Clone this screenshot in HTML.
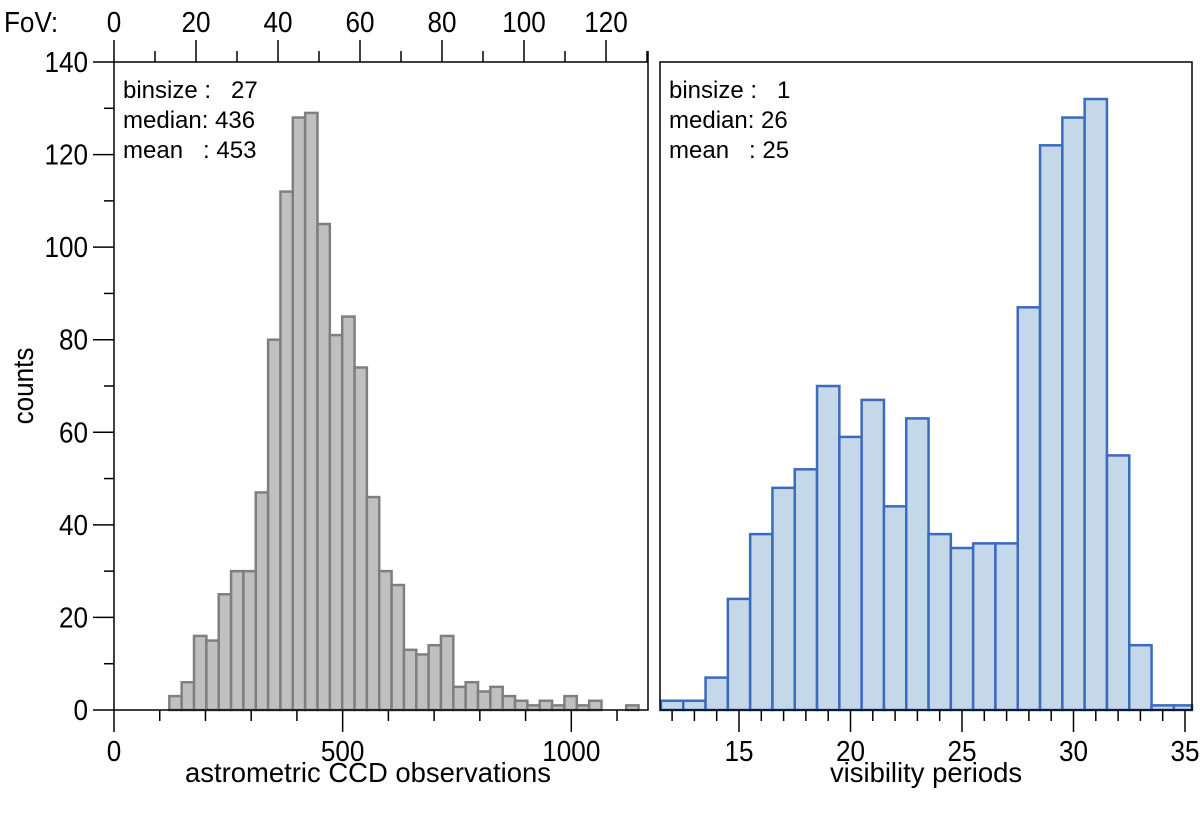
<!DOCTYPE html>
<html><head><meta charset="utf-8"><style>
html,body{margin:0;padding:0;background:#fff;}
svg{display:block;font-family:"Liberation Sans",Arial,sans-serif;}
text{white-space:pre;}
</style></head><body>
<svg id="chart" width="1200" height="819" viewBox="0 0 1200 819">
<g id="left"></g>
<g id="right"></g>
</svg>
<script>
// Left histogram data (astrometric CCD observations, binsize 27)
const ccdBinStart = 121;
const ccdBinSize = 27;
const ccdCounts = [3,6,16,15,25,30,30,47,80,112,128,129,105,81,85,74,46,30,27,13,12,14,16,5,6,4,5,3,2,1,2,1,3,1,2,0,0,1];
const ccdTicksMajor = [0,500,1000];
const ccdTicksMinor = [100,200,300,400,600,700,800,900,1100];
const fovTicksMajor = [0,20,40,60,80,100,120];
const fovTicksMinor = [10,30,50,70,90,110,130];
const countTicksMajor = [0,20,40,60,80,100,120,140];
const countTicksMinor = [10,30,50,70,90,110,130];
// Right histogram data (visibility periods, binsize 1)
const visCenters = [12,13,14,15,16,17,18,19,20,21,22,23,24,25,26,27,28,29,30,31,32,33,34,35];
const visCounts = [2,2,7,24,38,48,52,70,59,67,44,63,38,35,36,36,87,122,128,132,55,14,1,1];
const visTicksMajor = [15,20,25,30,35];

const NS = "http://www.w3.org/2000/svg";
function mk(parent, tag, attrs, text){
  const e = document.createElementNS(NS, tag);
  for (const k in attrs) e.setAttribute(k, attrs[k]);
  if (text !== undefined) e.textContent = text;
  parent.appendChild(e);
  return e;
}
function ntext(parent, x, y, s, size, anchor, sx, rot){
  const tr = 'translate(' + x + ',' + y + ')' + (rot ? ' rotate(' + rot + ')' : '') + ' scale(' + sx + ',1)';
  return mk(parent, 'text', {x: 0, y: 0, 'text-anchor': anchor, 'font-size': size, transform: tr}, s);
}
const y0 = 710, yTop = 62;
const yScale = v => y0 - v * (y0 - yTop) / 140;
const xL = v => 114 + v * 0.4573;
const xLRight = 648;
const fovX = f => 114 + f * 4.1;
const xR = v => 739 + (v - 15) * 22.3;
const xRLeft = 660, xRRight = 1192;

const L = document.getElementById('left');
const R = document.getElementById('right');

ccdCounts.forEach((c, i) => {
  if (c <= 0) return;
  const a = ccdBinStart + i * ccdBinSize;
  const x1 = xL(a), x2 = xL(a + ccdBinSize);
  const r = mk(L, 'rect', {x: x1, y: yScale(c), width: x2 - x1, height: y0 - yScale(c), fill: '#c0c0c0', stroke: '#7f7f7f', 'stroke-width': 2.5});
  
  
});
let f = mk(L, 'rect', {x: 114, y: yTop, width: xLRight - 114, height: y0 - yTop, fill: 'none', stroke: '#000', 'stroke-width': 1.5});


countTicksMajor.forEach(v => {
  const y = yScale(v);
  mk(L, 'line', {x1: 93, x2: 114, y1: y, y2: y, stroke: '#000', 'stroke-width': 1.5});
  const t = ntext(L, 88, y + 10, String(v), 29, 'end', 0.9);
  
  
});
countTicksMinor.forEach(v => {
  const y = yScale(v);
  mk(L, 'line', {x1: 104, x2: 114, y1: y, y2: y, stroke: '#000', 'stroke-width': 1.5});
});
ccdTicksMajor.forEach(v => {
  const x = xL(v);
  mk(L, 'line', {x1: x, x2: x, y1: y0, y2: y0 + 22, stroke: '#000', 'stroke-width': 1.5});
  const t = ntext(L, x, y0 + 51, String(v), 29, 'middle', 0.9);
  
  
});
ccdTicksMinor.forEach(v => {
  const x = xL(v);
  mk(L, 'line', {x1: x, x2: x, y1: y0, y2: y0 + 11, stroke: '#000', 'stroke-width': 1.5});
});
fovTicksMajor.forEach(v => {
  const x = fovX(v);
  mk(L, 'line', {x1: x, x2: x, y1: yTop, y2: yTop - 22, stroke: '#000', 'stroke-width': 1.5});
  const t = ntext(L, x, 32, String(v), 29, 'middle', 0.9);
  
  
});
fovTicksMinor.forEach(v => {
  const x = fovX(v);
  if (x > xLRight + 1) return;
  mk(L, 'line', {x1: x, x2: x, y1: yTop, y2: yTop - 11, stroke: '#000', 'stroke-width': 1.5});
});
mk(L, 'line', {x1: xLRight, x2: xLRight, y1: yTop, y2: yTop - 11, stroke: '#000', 'stroke-width': 1.5});
let ft = ntext(L, 4, 32, 'FoV:', 29, 'start', 0.9);


[['binsize :   27', 98], ['median: 436', 128], ['mean   : 453', 158]].forEach(([s, y]) => {
  const t = ntext(L, 123, y, s, 24, 'start', 1);
  
  
});
let xt = ntext(L, 368, 782, 'astrometric CCD observations', 28, 'middle', 0.98);


let yt = ntext(L, 33, 386, 'counts', 29, 'middle', 0.9, -90);



visCenters.forEach((c, i) => {
  const v = visCounts[i];
  if (v <= 0) return;
  const x1 = Math.max(xR(c - 0.5), xRLeft), x2 = Math.min(xR(c + 0.5), xRRight);
  const r = mk(R, 'rect', {x: x1, y: yScale(v), width: x2 - x1, height: y0 - yScale(v), fill: '#c5d8ea', stroke: '#3a6bbd', 'stroke-width': 2.5});
  
  
});
f = mk(R, 'rect', {x: xRLeft, y: yTop, width: xRRight - xRLeft, height: y0 - yTop, fill: 'none', stroke: '#000', 'stroke-width': 1.5});


for (let v = 12; v <= 35; v++) {
  const x = xR(v);
  const major = visTicksMajor.includes(v);
  mk(R, 'line', {x1: x, x2: x, y1: y0, y2: y0 + (major ? 22 : 11), stroke: '#000', 'stroke-width': 1.5});
}
visTicksMajor.forEach(v => {
  const t = ntext(R, xR(v), y0 + 51, String(v), 29, 'middle', 0.9);
  
  
});
[['binsize :   1', 98], ['median: 26', 128], ['mean   : 25', 158]].forEach(([s, y]) => {
  const t = ntext(R, 669, y, s, 24, 'start', 1);
  
  
});
xt = ntext(R, 926, 782, 'visibility periods', 28, 'middle', 0.98);


</script>
</body></html>
